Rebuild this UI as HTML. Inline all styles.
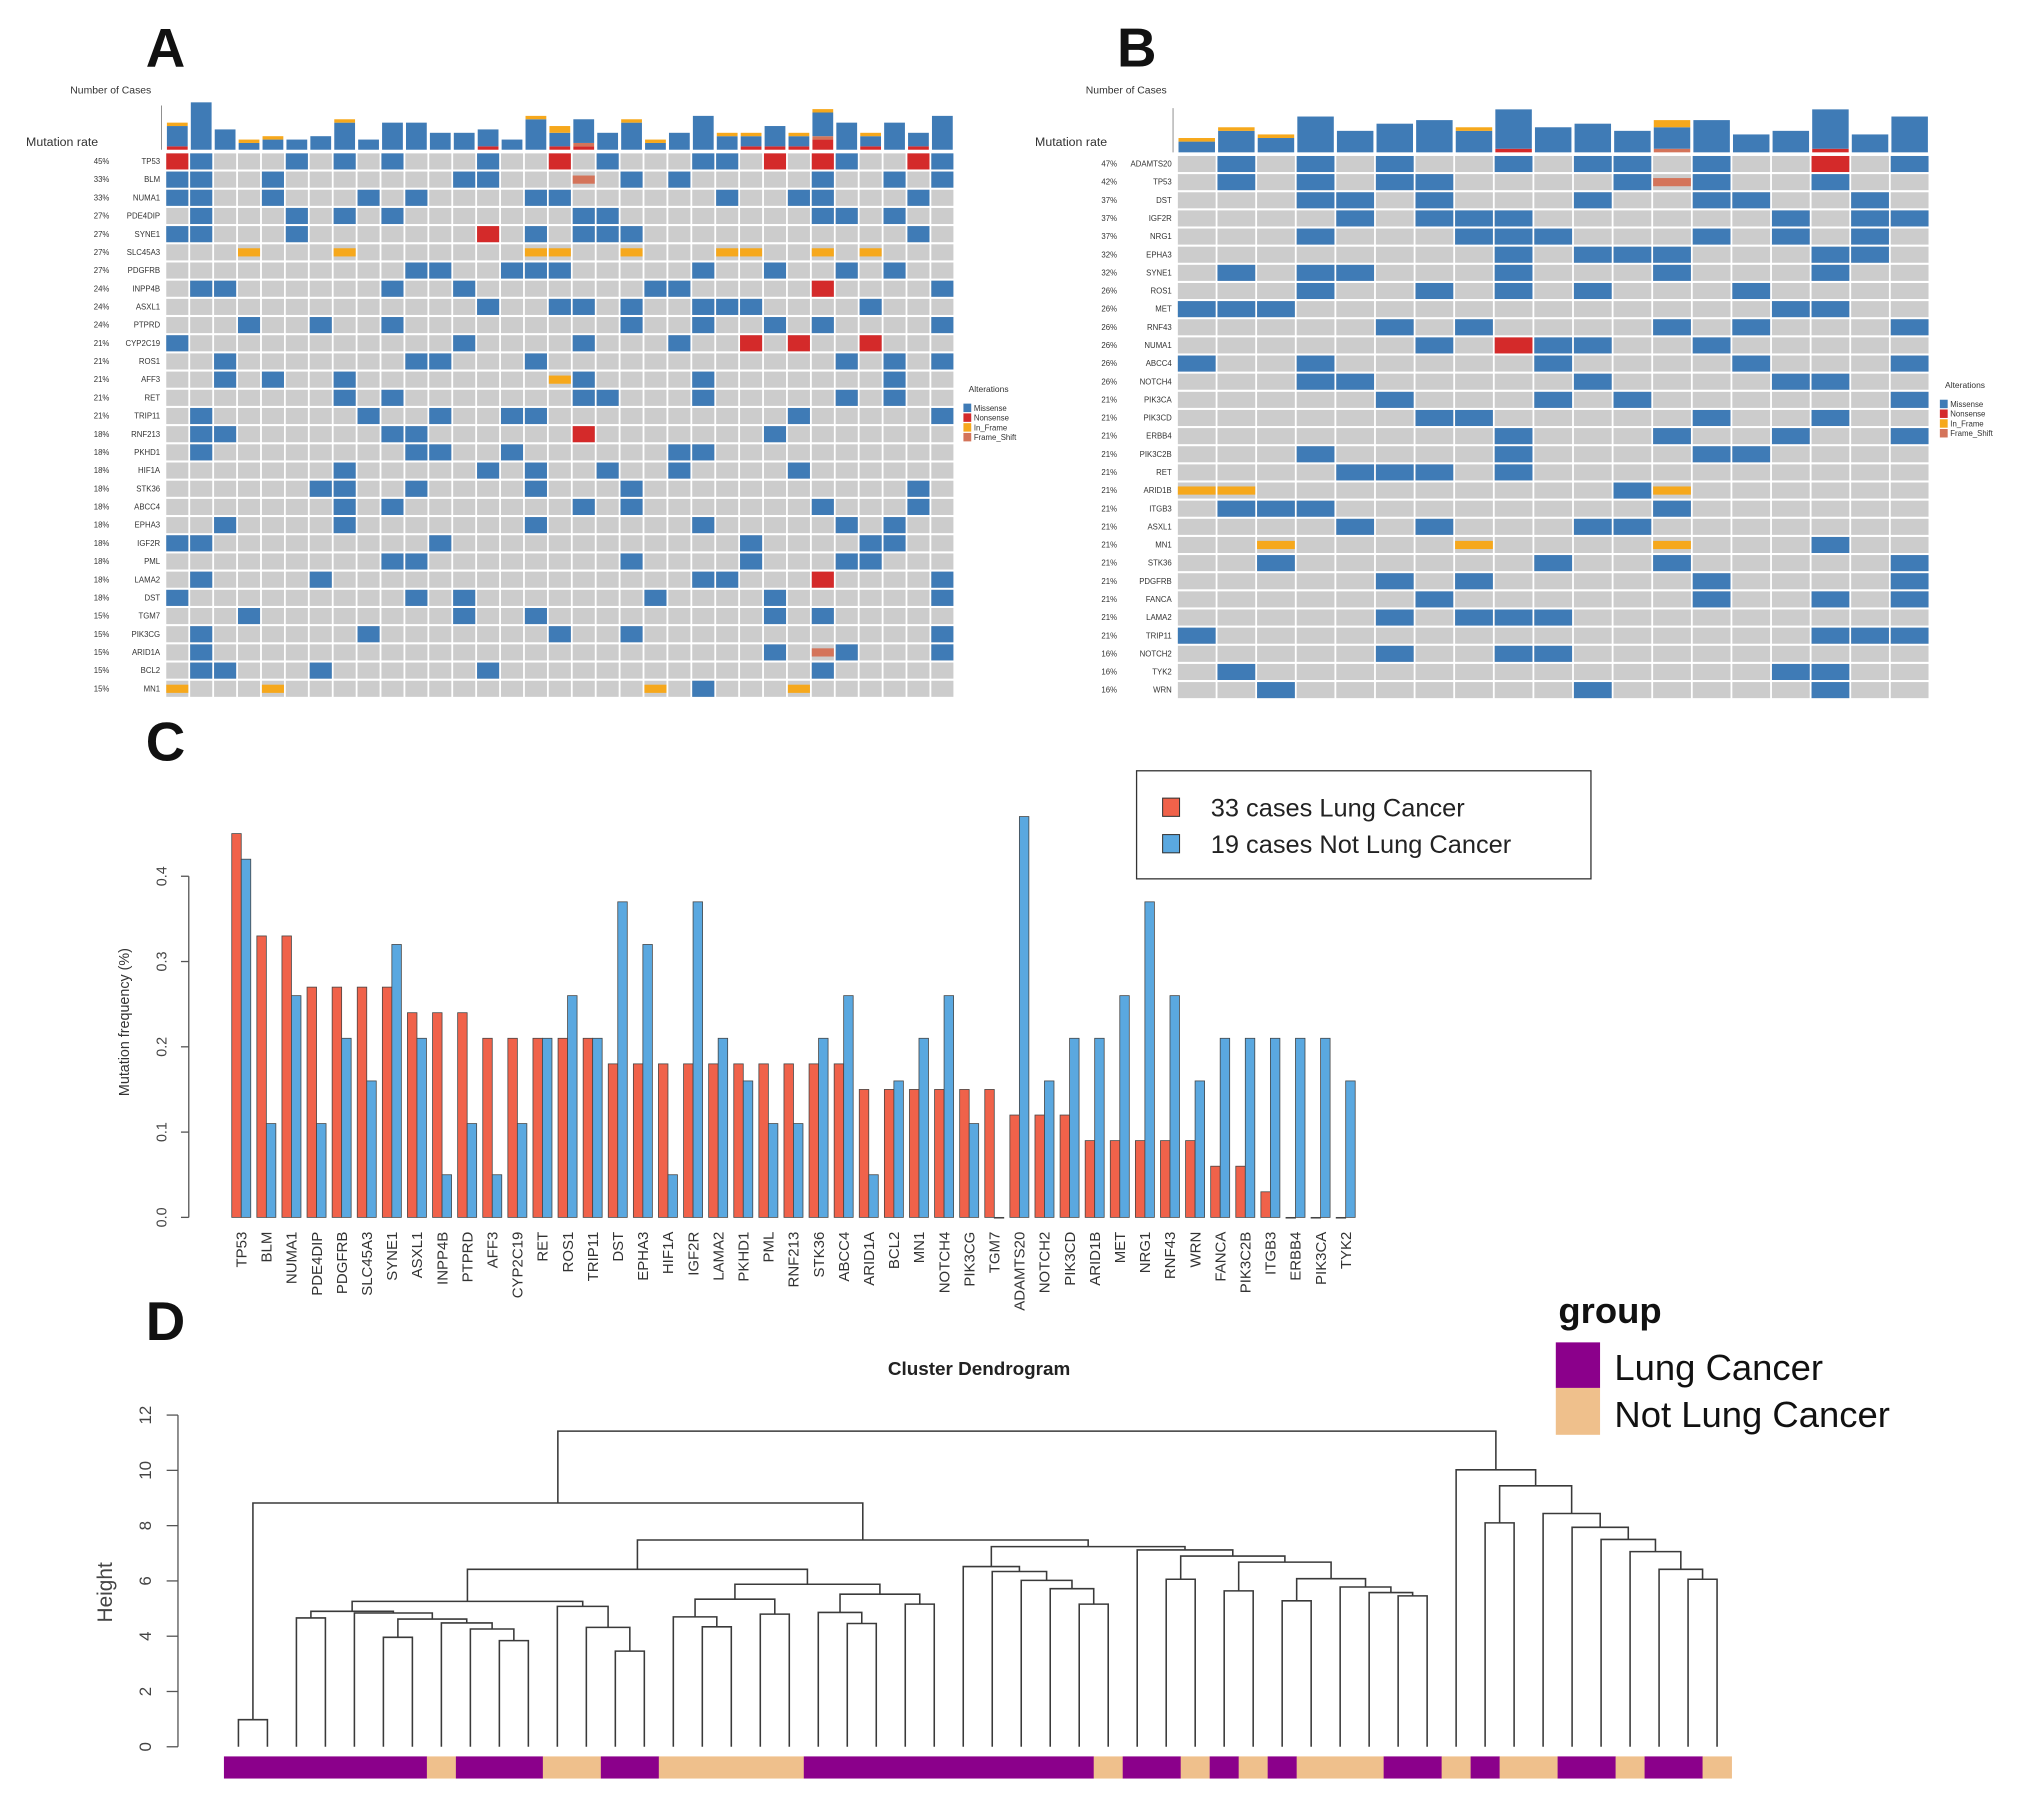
<!DOCTYPE html>
<html><head><meta charset="utf-8"><title>Mutation figure</title>
<style>
html,body{margin:0;padding:0;background:#fff;}
svg{display:block;font-family:"Liberation Sans",Arial,sans-serif;}
</style></head>
<body>
<svg id="fig" xmlns="http://www.w3.org/2000/svg" width="2031" height="1815" viewBox="0 0 1560 1394" preserveAspectRatio="none">
<rect x="0" y="0" width="1560" height="1394" fill="#fff"/>
<g id="panelA"></g>
<g id="panelB"></g>
<g id="panelC"></g>
<g id="panelD"></g>
</svg>
<script>
// ---------- Panel A data ----------
const aGenes = ["TP53","BLM","NUMA1","PDE4DIP","SYNE1","SLC45A3","PDGFRB","INPP4B","ASXL1","PTPRD","CYP2C19","ROS1","AFF3","RET","TRIP11","RNF213","PKHD1","HIF1A","STK36","ABCC4","EPHA3","IGF2R","PML","LAMA2","DST","TGM7","PIK3CG","ARID1A","BCL2","MN1"];
const aPct = ["45%","33%","33%","27%","27%","27%","27%","24%","24%","24%","21%","21%","21%","21%","21%","18%","18%","18%","18%","18%","18%","18%","18%","18%","18%","15%","15%","15%","15%","15%"];
const aRows = [
"nm...m.m.m...m..n.m...mm.n.nm..nm",
"mm..m.......mm...f.m.m.....m..m.m",
"mm..m...m.m....mm......m..mm...m.",
".m...m.m.m.......mm........mm.m..",
"mm...m.......n.m.mmm...........m.",
"...i...i.......ii..i...ii..i.i...",
"..........mm..mmm.....m..m..m.m..",
".mm......m..m.......mm.....n....m",
".............m..mm.m..mmm....m...",
"...m..m..m.........m..m..m.m....m",
"m...........m....m...m..n.n..n...",
"..m.......mm...m............m.m.m",
"..m.m..m........im....m.......m..",
".......m.m.......mm...m.....m.m..",
".m......m..m..mm..........m.....m",
".mm......mm......n.......m.......",
".m........mm..m......mm..........",
".......m.....m.m..m..m....m......",
"......mm..m....m...m...........m.",
".......m.m.......m.m.......m...m.",
"..m....m.......m......m.....m.m..",
"mm.........m............m....mm..",
".........mm........m....m...mm...",
".m....m...............mm...n....m",
"m.........m.m.......m....m......m",
"...m........m..m.........m.m.....",
".m......m.......m..m............m",
".m.......................m.fm...m",
".mm...m......m.............m.....",
"i...i...............i.m...i......"
];
// ---------- Panel B data ----------
const bGenes = ["ADAMTS20","TP53","DST","IGF2R","NRG1","EPHA3","SYNE1","ROS1","MET","RNF43","NUMA1","ABCC4","NOTCH4","PIK3CA","PIK3CD","ERBB4","PIK3C2B","RET","ARID1B","ITGB3","ASXL1","MN1","STK36","PDGFRB","FANCA","LAMA2","TRIP11","NOTCH2","TYK2","WRN"];
const bPct = ["47%","42%","37%","37%","37%","32%","32%","26%","26%","26%","26%","26%","26%","21%","21%","21%","21%","21%","21%","21%","21%","21%","21%","21%","21%","21%","21%","16%","16%","16%"];
const bRows = [
".m.m.m..m.mm.m..n.m",
".m.m.mm....mfm..m..",
"...mm.m...m..mm..m.",
"....m.mmm......m.mm",
"...m...mmm...m.m.m.",
"........m.mmm...mm.",
".m.mm...m...m...m..",
"...m..m.m.m...m....",
"mmm............mm..",
".....m.m....m.m...m",
"......m.nmm..m.....",
"m..m.....m....m...m",
"...mm.....m....mm..",
".....m...m.m......m",
"......mm.....m..m..",
"........m...m..m..m",
"...m....m....mm....",
"....mmm.m..........",
"ii.........mi......",
".mmm........m......",
"....m.m...mm.......",
"..i....i....i...m..",
"..m......m..m.....m",
".....m.m.....m....m",
"......m......m..m.m",
".....m.mmm.........",
"m...............mmm",
".....m..mm.........",
".m.............mm..",
"..m.......m.....m.."
];
// ---------- Panel C data ----------
const cGenes = ["TP53","BLM","NUMA1","PDE4DIP","PDGFRB","SLC45A3","SYNE1","ASXL1","INPP4B","PTPRD","AFF3","CYP2C19","RET","ROS1","TRIP11","DST","EPHA3","HIF1A","IGF2R","LAMA2","PKHD1","PML","RNF213","STK36","ABCC4","ARID1A","BCL2","MN1","NOTCH4","PIK3CG","TGM7","ADAMTS20","NOTCH2","PIK3CD","ARID1B","MET","NRG1","RNF43","WRN","FANCA","PIK3C2B","ITGB3","ERBB4","PIK3CA","TYK2"];
const cLung = [0.45,0.33,0.33,0.27,0.27,0.27,0.27,0.24,0.24,0.24,0.21,0.21,0.21,0.21,0.21,0.18,0.18,0.18,0.18,0.18,0.18,0.18,0.18,0.18,0.18,0.15,0.15,0.15,0.15,0.15,0.15,0.12,0.12,0.12,0.09,0.09,0.09,0.09,0.09,0.06,0.06,0.03,0,0,0];
const cNot = [0.42,0.11,0.26,0.11,0.21,0.16,0.32,0.21,0.05,0.11,0.05,0.11,0.21,0.26,0.21,0.37,0.32,0.05,0.37,0.21,0.16,0.11,0.11,0.21,0.26,0.05,0.16,0.21,0.26,0.11,0,0.47,0.16,0.21,0.21,0.26,0.37,0.26,0.16,0.21,0.21,0.21,0.21,0.21,0.16];
const cTicks = [0,0.1,0.2,0.3,0.4];
const cTickLabels = ["0.0","0.1","0.2","0.3","0.4"];
// ---------- Panel D data ----------
const dMergeLeft  = [-1,-3,-6,-10,-9,-8,3,-5,2,-14,-13,-12,9,-17,-16,-19,15,-22,-21,-24,19,17,13,-30,-29,-28,-27,-26,-33,-35,-37,-41,-40,-39,31,30,29,-32,28,23,1,-51,-50,-49,-48,-47,-46,-44,48,-43,41];
const dMergeRight = [-2,-4,-7,-11,4,5,6,7,8,-15,10,11,12,-18,14,-20,16,-23,18,-25,20,21,22,-31,24,25,26,27,-34,-36,-38,-42,32,33,34,35,36,37,38,39,40,-52,42,43,44,45,46,-45,47,49,50];
const dHeights = [0.98,4.66,3.96,3.84,4.26,4.48,4.62,4.84,4.90,3.46,4.32,5.08,5.26,4.34,4.70,4.80,5.34,4.46,4.86,5.16,5.52,5.88,6.42,5.16,5.72,6.02,6.34,6.52,6.06,5.64,5.28,5.46,5.58,5.78,6.08,6.68,6.90,7.12,7.24,7.48,8.82,6.06,6.42,7.06,7.50,7.94,8.44,8.10,9.44,10.02,11.42];
const dGroupRuns = [["L",7],["N",1],["L",3],["N",2],["L",2],["N",5],["L",10],["N",1],["L",2],["N",1],["L",1],["N",1],["L",1],["N",3],["L",2],["N",1],["L",1],["N",2],["L",2],["N",1],["L",2],["N",1]];
const dTicks = [0,2,4,6,8,10,12];

const NS = "http://www.w3.org/2000/svg";
function mk(tag, attrs, parent){
  const e = document.createElementNS(NS, tag);
  for (const k in attrs) e.setAttribute(k, attrs[k]);
  parent.appendChild(e);
  return e;
}
function txt(str, attrs, parent){
  const e = mk('text', attrs, parent);
  e.textContent = str;
  return e;
}
const COL = {m:"#3f7bb6", n:"#d42a2a", i:"#f6a81c", f:"#d4745a"};

function oncoprint(g, genes, pct, rows, o){
  const nC = rows[0].length, nR = rows.length;
  const cw = (o.x1 - o.x0) / nC, rh = (o.y1 - o.y0) / nR;
  const colX = c => o.x0 + c * cw;
  const rowY = r => o.y0 + r * rh;
  const L = txt(o.letter, {x:o.letterX, y:51, 'font-size':42, 'font-weight':'bold', fill:'#111'}, g);
  
  
  const t1 = txt("Number of Cases", {x:o.nocX, y:72, 'font-size':8, fill:'#333'}, g);
  
  
  const t2 = txt("Mutation rate", {x:o.mrX, y:112, 'font-size':9.5, fill:'#333'}, g);
  
  
  for (let r = 0; r < nR; r++){
    const gl = txt(genes[r], {x:o.x0 - 4, y:rowY(r) + rh/2 + 2, 'font-size':6, 'text-anchor':'end', fill:'#333'}, g);
    
    
    const pl = txt(pct[r], {x:o.pctX, y:rowY(r) + rh/2 + 2, 'font-size':6, fill:'#333'}, g);
    
    
    for (let c = 0; c < nC; c++){
      const ch = rows[r][c];
      const bg = mk('rect', {x:colX(c)+0.7, y:rowY(r)+0.8, width:cw-1.4, height:rh-1.6, fill:'#cccccc'}, g);
      
      
      if (ch !== '.'){
        const h = (ch === 'i' || ch === 'f') ? rh * 0.45 : rh - 1.6;
        const cell = mk('rect', {x:colX(c)+0.7, y:rowY(r) + (rh - h)/2, width:cw-1.4, height:h, fill:COL[ch]}, g);
        
        
      }
    }
  }
  const order = ['n','f','m','i'];
  for (let c = 0; c < nC; c++){
    let base = o.y0 - 2;
    for (const k of order){
      let cnt = 0;
      for (let r = 0; r < nR; r++) if (rows[r][c] === k) cnt++;
      if (!cnt) continue;
      const h = cnt * o.ppc;
      const b = mk('rect', {x:colX(c)+1.2, y:base - h, width:cw-2.4, height:h, fill:COL[k]}, g);
      
      
      base -= h;
    }
  }
  const ax = mk('line', {x1:o.x0 - 3, x2:o.x0 - 3, y1:o.y0 - 2, y2:o.y0 - 36, stroke:'#555', 'stroke-width':0.5}, g);
  
  
  const lt = txt("Alterations", {x:o.legX + 4, y:o.legY, 'font-size':6.5, fill:'#333'}, g);
  
  
  const names = ["Missense","Nonsense","In_Frame","Frame_Shift"], keys = ['m','n','i','f'];
  for (let k = 0; k < 4; k++){
    const sw = mk('rect', {x:o.legX, y:o.legY + 9 + k*7.5, width:6, height:6.5, fill:COL[keys[k]]}, g);
    
    
    const tl = txt(names[k], {x:o.legX + 8, y:o.legY + 14.5 + k*7.5, 'font-size':6, fill:'#333'}, g);
    
    
  }
}
oncoprint(document.getElementById('panelA'), aGenes, aPct, aRows,
  {x0:127, x1:733, y0:117, y1:536, ppc:2.6, letter:"A", letterX:112, nocX:54, mrX:20, pctX:72, legX:740, legY:301});
oncoprint(document.getElementById('panelB'), bGenes, bPct, bRows,
  {x0:904, x1:1482, y0:119, y1:537, ppc:2.75, letter:"B", letterX:858, nocX:834, mrX:795, pctX:846, legX:1490, legY:298});

(function(){
  const g = document.getElementById('panelC');
  const y0 = 935, k = 655;
  const yS = v => y0 - v * k;
  const xS = i => 178 + i * 19.28;
  const bw = 7.3;
  const L = txt("C", {x:112, y:584, 'font-size':42, 'font-weight':'bold', fill:'#111'}, g);
  
  
  const ax = mk('line', {x1:145, x2:145, y1:yS(0), y2:yS(0.4), stroke:'#555', 'stroke-width':1}, g);
  
  
  cTicks.forEach((t, i) => {
    const tk = mk('line', {x1:139, x2:145, y1:yS(t), y2:yS(t), stroke:'#555', 'stroke-width':1}, g);
    
    
    const tl = txt(cTickLabels[i], {x:0, y:0, 'font-size':11, 'text-anchor':'middle', fill:'#444', transform:`translate(128,${yS(t)}) rotate(-90)`}, g);
    
    
  });
  const yt = txt("Mutation frequency (%)", {x:0, y:0, 'font-size':11, 'text-anchor':'middle', fill:'#333', transform:'translate(99,785) rotate(-90)'}, g);
  
  
  cGenes.forEach((gn, i) => {
    const r = mk('rect', {x:xS(i), y:yS(cLung[i]), width:bw, height:Math.max(cLung[i]*k, 0.6), fill:'#f0624a', stroke:'#444', 'stroke-width':0.6}, g);
    
    
    const b = mk('rect', {x:xS(i) + bw, y:yS(cNot[i]), width:bw, height:Math.max(cNot[i]*k, 0.6), fill:'#5aa8e0', stroke:'#444', 'stroke-width':0.6}, g);
    
    
    const xl = txt(gn, {x:0, y:0, 'font-size':11.5, 'text-anchor':'end', fill:'#333', transform:`translate(${xS(i) + bw + 4},946) rotate(-90)`}, g);
    
    
  });
  const lb = mk('rect', {x:873, y:592, width:349, height:83, fill:'#fff', stroke:'#333', 'stroke-width':1}, g);
  
  
  const s1 = mk('rect', {x:893, y:613, width:13, height:14, fill:'#f0624a', stroke:'#333', 'stroke-width':0.8}, g);
  
  
  const t1 = txt("33 cases Lung Cancer", {x:930, y:627, 'font-size':19.5, fill:'#222'}, g);
  
  
  const s2 = mk('rect', {x:893, y:641, width:13, height:14, fill:'#5aa8e0', stroke:'#333', 'stroke-width':0.8}, g);
  
  
  const t2 = txt("19 cases Not Lung Cancer", {x:930, y:655, 'font-size':19.5, fill:'#222'}, g);
  
  
})();

(function(){
  const g = document.getElementById('panelD');
  const nLeaves = dMergeLeft.length + 1;
  const barX0 = 172, barX1 = 1330;
  const lw = (barX1 - barX0) / nLeaves;
  const xLeaf = i => barX0 + lw * (i + 0.5);
  const yS = h => 1341.6 - h * 21.23;
  const L = txt("D", {x:112, y:1029, 'font-size':42, 'font-weight':'bold', fill:'#111'}, g);
  
  
  const ti = txt("Cluster Dendrogram", {x:752, y:1056, 'font-size':14.5, 'font-weight':'bold', 'text-anchor':'middle', fill:'#222'}, g);
  
  
  const ax = mk('line', {x1:136.7, x2:136.7, y1:yS(0), y2:yS(12), stroke:'#555', 'stroke-width':1}, g);
  
  
  dTicks.forEach(t => {
    const tk = mk('line', {x1:128, x2:136.7, y1:yS(t), y2:yS(t), stroke:'#555', 'stroke-width':1}, g);
    
    
    const tl = txt(String(t), {x:0, y:0, 'font-size':13, 'text-anchor':'middle', fill:'#444', transform:`translate(116,${yS(t)}) rotate(-90)`}, g);
    
    
  });
  const yt = txt("Height", {x:0, y:0, 'font-size':16, 'text-anchor':'middle', fill:'#444', transform:'translate(86,1223) rotate(-90)'}, g);
  
  
  const pos = [], ht = [];
  const getX = id => id < 0 ? xLeaf(-id - 1) : pos[id - 1];
  const getH = id => id < 0 ? 0 : ht[id - 1];
  for (let m = 0; m < dMergeLeft.length; m++){
    const a = dMergeLeft[m], b = dMergeRight[m], h = dHeights[m];
    const xa = getX(a), xb = getX(b);
    const p = mk('path', {d:`M${xa},${yS(getH(a))}V${yS(h)}H${xb}V${yS(getH(b))}`, fill:'none', stroke:'#3a3a3a', 'stroke-width':1.2}, g);
    
    
    pos.push((xa + xb) / 2);
    ht.push(h);
  }
  let idx = 0;
  dGroupRuns.forEach(run => {
    const r = mk('rect', {x:barX0 + idx*lw, y:1349, width:run[1]*lw + 0.3, height:17, fill: run[0] === 'L' ? '#8b008b' : '#efc08c'}, g);
    
    
    idx += run[1];
  });
  const gt = txt("group", {x:1197, y:1016, 'font-size':28, 'font-weight':'bold', fill:'#111'}, g);
  
  
  const s1 = mk('rect', {x:1195, y:1031, width:34, height:35, fill:'#8b008b'}, g);
  
  
  const s2 = mk('rect', {x:1195, y:1066, width:34, height:36, fill:'#efc08c'}, g);
  
  
  const t1 = txt("Lung Cancer", {x:1240, y:1060, 'font-size':28, fill:'#111'}, g);
  
  
  const t2 = txt("Not Lung Cancer", {x:1240, y:1096, 'font-size':28, fill:'#111'}, g);
  
  
})();
</script>
</body></html>
